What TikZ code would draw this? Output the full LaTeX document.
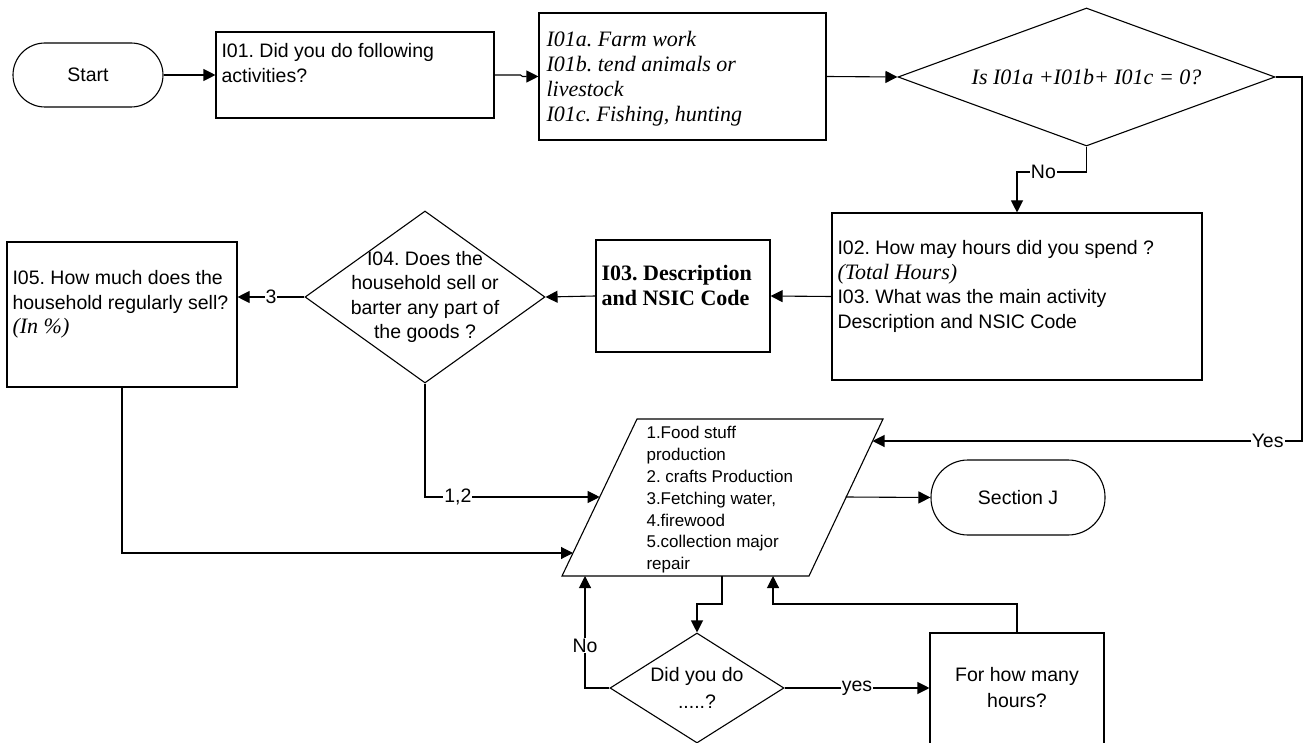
\documentclass[tikz,border=0pt]{standalone}
\usepackage{fontspec}
\setmainfont{Liberation Serif}
\newfontfamily\arial{Liberation Sans}
\usetikzlibrary{arrows.meta,shapes.geometric}
\frenchspacing
\begin{document}
\begin{tikzpicture}[x=1pt,y=-1pt,line width=1.1pt,
  arr/.style={-{Triangle[length=12pt,width=12pt]}},
  shp/.style={draw,inner sep=0pt},
  dia/.style={draw,diamond,inner sep=0pt},
  sans/.style={font=\arial\fontsize{19.5}{24.5}\selectfont},
  small/.style={font=\arial\fontsize{17}{21.8}\selectfont},
  serit/.style={font=\fontsize{22}{25}\selectfont\itshape},
  serbf/.style={font=\fontsize{22}{25}\selectfont\bfseries},
  txt/.style={inner sep=0pt,anchor=north west,align=left},
  lab/.style={sans,fill=white,inner sep=1pt}]
\useasboundingbox (0,0) rectangle (1303,743);
\clip (0,0) rectangle (1303,743);
% nodes
\node[shp,sans,rounded corners=32pt,minimum width=150pt,minimum height=64pt] (start) at (88,75) {Start};
\node[shp,minimum width=278pt,minimum height=86pt] (i01) at (355,75) {};
\node[txt,sans] (i01t) at (221,43) {I01. Did you do following\\activities?};
\node[shp,minimum width=287pt,minimum height=127pt] (i01a) at (682.5,76.5) {};
\node[txt,serit] (i01at) at (546,31) {I01a. Farm work\\I01b. tend animals or\\livestock\\I01c. Fishing, hunting};
\node[dia,minimum width=377pt,minimum height=138pt] (d1) at (1086.5,77) {};
\node[serit] (d1t) at (1086.5,77) {Is I01a +I01b+ I01c = 0?};
\node[shp,minimum width=370pt,minimum height=167pt] (i02) at (1017,296.5) {};
\node[txt,sans] (i02t) at (837,240) {I02. How may hours did you spend ?\\{\rmfamily\itshape\fontsize{22}{25}\selectfont (Total Hours)}\\I03. What was the main activity\\Description and NSIC Code};
\node[shp,minimum width=174pt,minimum height=112pt] (i03) at (683,296) {};
\node[txt,serbf] (i03t) at (601,264.5) {I03. Description\\and NSIC Code};
\node[dia,minimum width=240pt,minimum height=172pt] (d4) at (425,297) {};
\node[sans,align=center,inner sep=0pt] (d4t) at (425,297) {I04. Does the\\household sell or\\barter any part of\\the goods ?};
\node[shp,minimum width=230pt,minimum height=145pt] (i05) at (122,314.5) {};
\node[txt,sans] (i05t) at (12,270) {I05. How much does the\\household regularly sell?\\{\rmfamily\itshape\fontsize{22}{25}\selectfont (In \%)}};
% parallelogram
\draw (637,419) coordinate (pa) -- (883,419) coordinate (pb) -- (809,576) coordinate (pc) -- (562,576) coordinate (pd) -- cycle;
\node[txt,small] (ptxt) at (646,426) {1.Food stuff\\production\\2. crafts Production\\3.Fetching water,\\4.firewood\\5.collection major\\repair};
\coordinate (pYes) at (872.5,441);
\coordinate (p12) at (599.7,497);
\coordinate (p5) at (573,553);
\coordinate (pJ) at (845.7,497);
\coordinate (pb1) at (722,576);
\coordinate (pb2) at (585,576);
\coordinate (pb3) at (773,576);
\node[shp,sans,rounded corners=37pt,minimum width=174pt,minimum height=75pt] (secj) at (1018,497.5) {Section J};
\node[dia,minimum width=174pt,minimum height=110pt] (d5) at (697,688) {};
\node[sans,align=center,inner sep=0pt,font=\arial\fontsize{19.5}{27}\selectfont] (d5t) at (697,688) {Did you do\\.....?};
\node[shp,minimum width=174pt,minimum height=140pt] (hb) at (1017,703) {};
\node[sans,align=center,inner sep=0pt,font=\arial\fontsize{19.5}{26}\selectfont] (hbt) at (1017,688) {For how many\\hours?};
% connectors
\draw[arr] (start.east) -- (i01.west);
\draw[arr] (i01.east) -- ++(26,0) -- ++(2,1.5) -- (i01a.west);
\draw[arr] (i01a.east) -- (d1.west);
\draw[arr] (d1.south) -- (1086.5,172) -| (i02.north) node[lab,pos=0.31]{No};
\draw[arr] (d1.east) -- (1302,77) |- (pYes) node[lab,pos=0.54]{Yes};
\draw[arr] (i02.west) -- (i03.east);
\draw[arr] (i03.west) -- (d4.east);
\draw[arr] (d4.west) -- (d4.west -| i05.east) node[lab,midway]{3};
\draw[arr] (d4.south) |- (p12) node[lab,pos=0.594]{1,2};
\draw[arr] (i05.south) |- (p5);
\draw[arr] (pJ) -- (secj.west);
\draw[arr] (pb1) -- (722,604) -| (d5.north);
\draw[arr] (d5.west) -| (pb2) node[lab,pos=0.69]{No};
\draw[arr] (d5.east) -- (d5.east -| hb.west) node[lab,midway]{yes};
\draw[arr] (hb.north) |- (773,604) -- (pb3);
\end{tikzpicture}
\end{document}
